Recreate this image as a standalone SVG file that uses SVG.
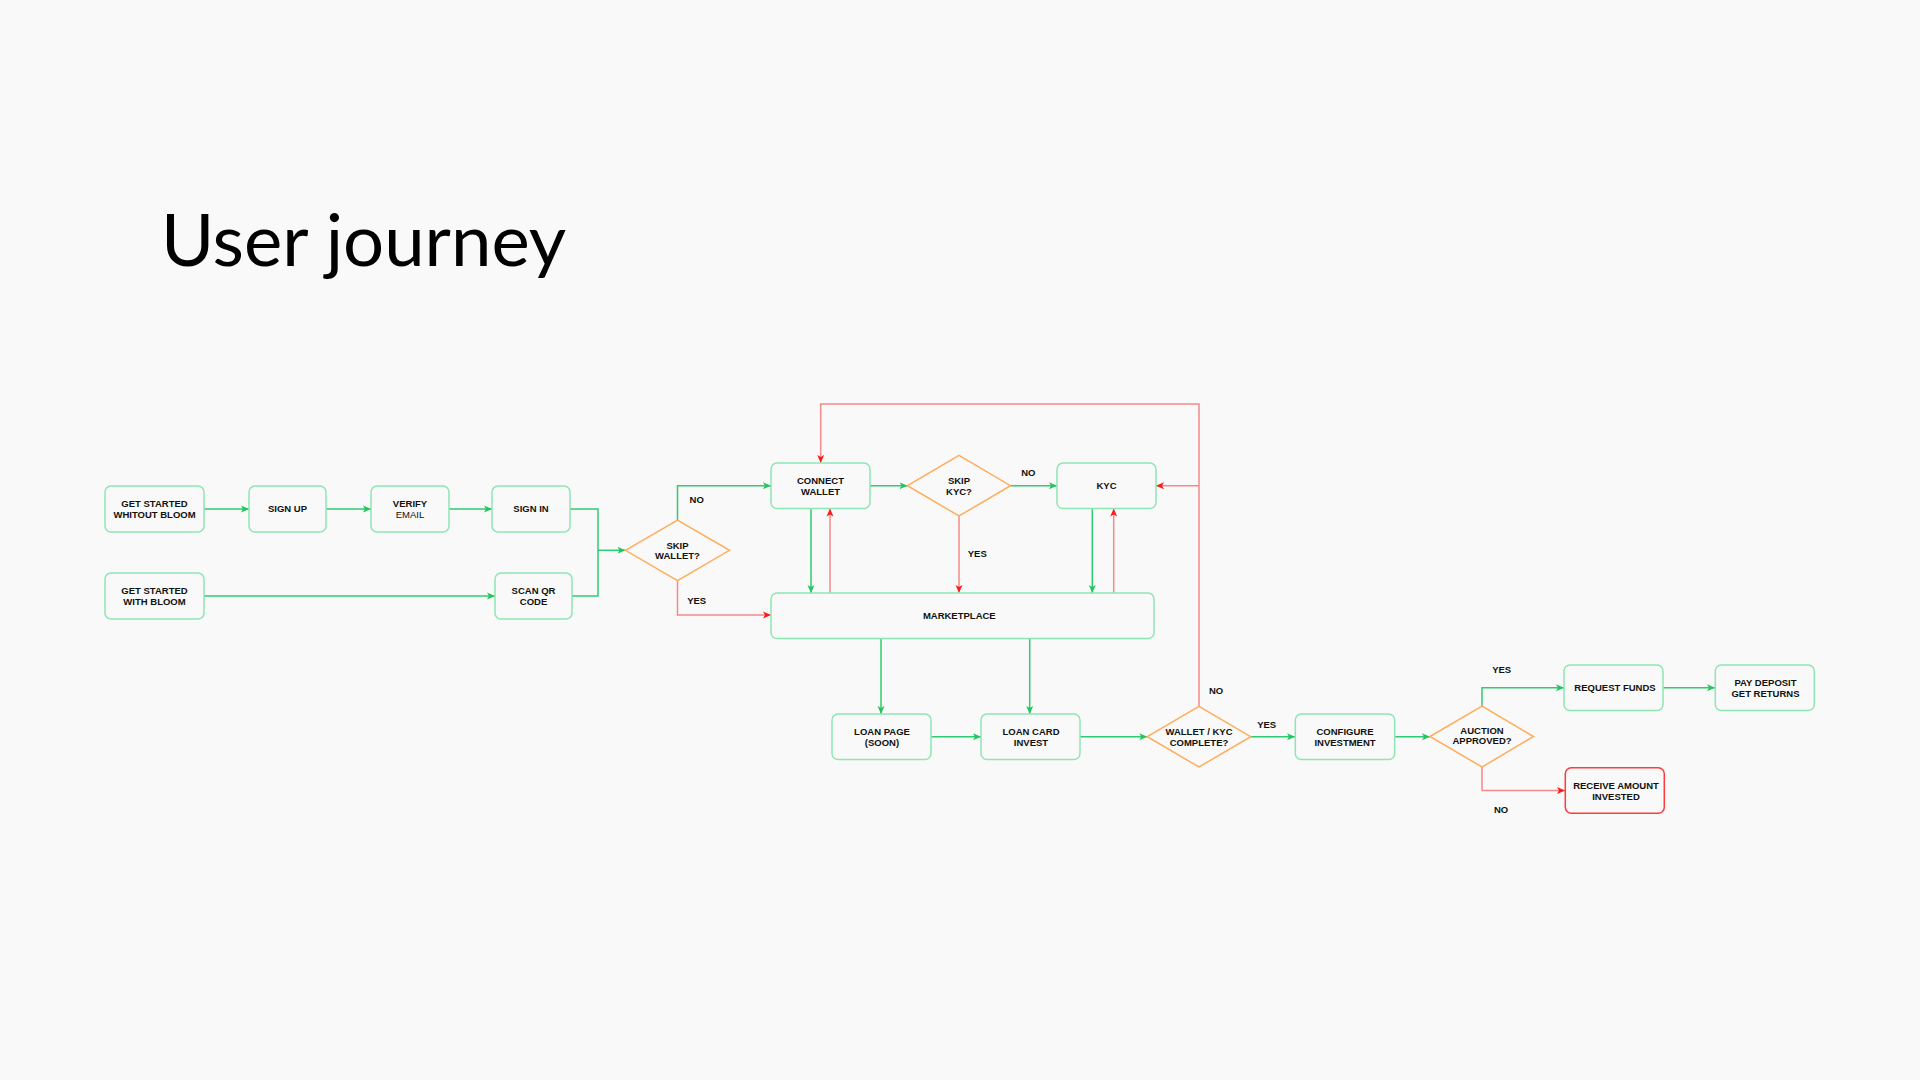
<svg xmlns="http://www.w3.org/2000/svg" width="1920" height="1080" viewBox="0 0 1920 1080">
<style>
.bg{fill:#f8f9f8}
.box{fill:#f8f9f8;stroke:#8ee6b4;stroke-width:1.5}
.rbox{fill:#f8f9f8;stroke:#ff3b3b;stroke-width:1.5}
.dia{fill:#f8f9f8;stroke:#ffad5c;stroke-width:1.5}
.t{font-family:"Liberation Sans",Arial,sans-serif;font-size:9.5px;font-weight:bold;fill:#111;text-anchor:middle}
.tr{font-weight:normal}
.g{fill:none;stroke:#2ecc71;stroke-width:1.5}
.r{fill:none;stroke:#f28b8b;stroke-width:1.5}
.title{font-family:Lato,"Liberation Sans",sans-serif;font-size:72.5px;fill:#000}
</style>
<defs>
<marker id="ag" markerUnits="userSpaceOnUse" markerWidth="9" markerHeight="8" refX="8" refY="4" orient="auto" viewBox="0 0 9 8"><path d="M0,0.5 L8,4 L0,7.5 L2,4 Z" fill="#22c55e"/></marker>
<marker id="ar" markerUnits="userSpaceOnUse" markerWidth="9" markerHeight="8" refX="8" refY="4" orient="auto" viewBox="0 0 9 8"><path d="M0,0.5 L8,4 L0,7.5 L2,4 Z" fill="#ff1a1a"/></marker>
</defs>
<rect class="bg" x="0" y="0" width="1920" height="1080"/>
<text class="title" x="161" y="266">User journey</text>

<g id="connectors">
<path class="g" d="M204,509 H249" marker-end="url(#ag)"/>
<path class="g" d="M326,509 H371" marker-end="url(#ag)"/>
<path class="g" d="M449,509 H492" marker-end="url(#ag)"/>
<path class="g" d="M204,596 H495" marker-end="url(#ag)"/>
<path class="g" d="M570,509 H598 V596 H572"/>
<path class="g" d="M598,550.3 H625.5" marker-end="url(#ag)"/>
<path class="g" d="M677.5,520 V485.7 H771" marker-end="url(#ag)"/>
<path class="r" d="M677.5,581 V615 H771" marker-end="url(#ar)"/>
<path class="g" d="M870,485.7 H907.5" marker-end="url(#ag)"/>
<path class="g" d="M1010.5,485.7 H1057" marker-end="url(#ag)"/>
<path class="r" d="M959,516 V593" marker-end="url(#ar)"/>
<path class="g" d="M811,508.5 V593" marker-end="url(#ag)"/>
<path class="r" d="M830,593 V508.5" marker-end="url(#ar)"/>
<path class="g" d="M1092.3,508.5 V593" marker-end="url(#ag)"/>
<path class="r" d="M1113.7,593 V508.5" marker-end="url(#ar)"/>
<path class="g" d="M881,638.5 V714" marker-end="url(#ag)"/>
<path class="g" d="M1029.7,638.5 V714" marker-end="url(#ag)"/>
<path class="g" d="M931,736.7 H981" marker-end="url(#ag)"/>
<path class="g" d="M1080,736.7 H1147.3" marker-end="url(#ag)"/>
<path class="r" d="M1199,706.3 V404 H820.7 V463" marker-end="url(#ar)"/>
<path class="r" d="M1199,485.7 H1156" marker-end="url(#ar)"/>
<path class="g" d="M1250.7,736.7 H1295" marker-end="url(#ag)"/>
<path class="g" d="M1394.7,736.7 H1430" marker-end="url(#ag)"/>
<path class="g" d="M1482,706 V687.8 H1564" marker-end="url(#ag)"/>
<path class="r" d="M1482,767 V790.5 H1565" marker-end="url(#ar)"/>
<path class="g" d="M1663,687.8 H1715" marker-end="url(#ag)"/>
<text class="t" x="696.7" y="502.7">NO</text>
<text class="t" x="696.7" y="604.1">YES</text>
<text class="t" x="1028.3" y="476.1">NO</text>
<text class="t" x="977.3" y="556.7">YES</text>
<text class="t" x="1216" y="694.1">NO</text>
<text class="t" x="1266.7" y="727.7">YES</text>
<text class="t" x="1501.7" y="673.4">YES</text>
<text class="t" x="1501" y="813.4">NO</text>
</g>

<g id="n-gs-without"><rect class="box" x="105" y="486" width="99" height="46" rx="6"/><text class="t" x="154.5" y="507.3">GET STARTED</text><text class="t" x="154.5" y="517.9">WHITOUT BLOOM</text></g>
<g id="n-signup"><rect class="box" x="249" y="486" width="77" height="46" rx="6"/><text class="t" x="287.5" y="512.4">SIGN UP</text></g>
<g id="n-verify"><rect class="box" x="371" y="486" width="78" height="46" rx="6"/><text class="t" x="410" y="507.3">VERIFY</text><text class="t tr" x="410" y="517.9">EMAIL</text></g>
<g id="n-signin"><rect class="box" x="492" y="486" width="78" height="46" rx="6"/><text class="t" x="531" y="512.4">SIGN IN</text></g>
<g id="n-gs-with"><rect class="box" x="105" y="573" width="99" height="46" rx="6"/><text class="t" x="154.5" y="594.3">GET STARTED</text><text class="t" x="154.5" y="604.9">WITH BLOOM</text></g>
<g id="n-scanqr"><rect class="box" x="495" y="573" width="77" height="46" rx="6"/><text class="t" x="533.5" y="594.3">SCAN QR</text><text class="t" x="533.5" y="604.9">CODE</text></g>
<g id="d-skipwallet"><path class="dia" d="M625.5,550.3 L677.5,520 L729.5,550.3 L677.5,580.6 Z"/><text class="t" x="677.5" y="548.6">SKIP</text><text class="t" x="677.5" y="559.1">WALLET?</text></g>
<g id="n-connect"><rect class="box" x="771" y="463" width="99" height="45.5" rx="6"/><text class="t" x="820.5" y="484">CONNECT</text><text class="t" x="820.5" y="494.5">WALLET</text></g>
<g id="d-skipkyc"><path class="dia" d="M907.5,485.7 L959,455.4 L1010.5,485.7 L959,516 Z"/><text class="t" x="959" y="484">SKIP</text><text class="t" x="959" y="494.5">KYC?</text></g>
<g id="n-kyc"><rect class="box" x="1057" y="463" width="99" height="45.5" rx="6"/><text class="t" x="1106.5" y="489.1">KYC</text></g>
<g id="n-market"><rect class="box" x="771" y="593" width="383" height="45.5" rx="6"/><text class="t" x="959.3" y="619.4">MARKETPLACE</text></g>
<g id="n-loanpage"><rect class="box" x="832" y="714" width="99" height="45.5" rx="6"/><text class="t" x="882" y="735">LOAN PAGE</text><text class="t" x="882" y="745.5">(SOON)</text></g>
<g id="n-loancard"><rect class="box" x="981" y="714" width="99" height="45.5" rx="6"/><text class="t" x="1031" y="735">LOAN CARD</text><text class="t" x="1031" y="745.5">INVEST</text></g>
<g id="d-walletkyc"><path class="dia" d="M1147.3,736.7 L1199,706.3 L1250.7,736.7 L1199,767 Z"/><text class="t" x="1199" y="735">WALLET / KYC</text><text class="t" x="1199" y="745.5">COMPLETE?</text></g>
<g id="n-config"><rect class="box" x="1295.3" y="714" width="99.4" height="45.5" rx="6"/><text class="t" x="1345" y="735">CONFIGURE</text><text class="t" x="1345" y="745.5">INVESTMENT</text></g>
<g id="d-auction"><path class="dia" d="M1430,736.5 L1482,706 L1533.5,736.5 L1482,767 Z"/><text class="t" x="1482" y="733.5">AUCTION</text><text class="t" x="1482" y="744.1">APPROVED?</text></g>
<g id="n-request"><rect class="box" x="1564" y="665" width="99" height="45.5" rx="6"/><text class="t" x="1615" y="691.2">REQUEST FUNDS</text></g>
<g id="n-pay"><rect class="box" x="1715.3" y="665" width="99" height="45.5" rx="6"/><text class="t" x="1765.5" y="686">PAY DEPOSIT</text><text class="t" x="1765.5" y="696.5">GET RETURNS</text></g>
<g id="n-receive"><rect class="rbox" x="1565.3" y="767.7" width="99" height="45.5" rx="6"/><text class="t" x="1616" y="789">RECEIVE AMOUNT</text><text class="t" x="1616" y="799.5">INVESTED</text></g>
</svg>
